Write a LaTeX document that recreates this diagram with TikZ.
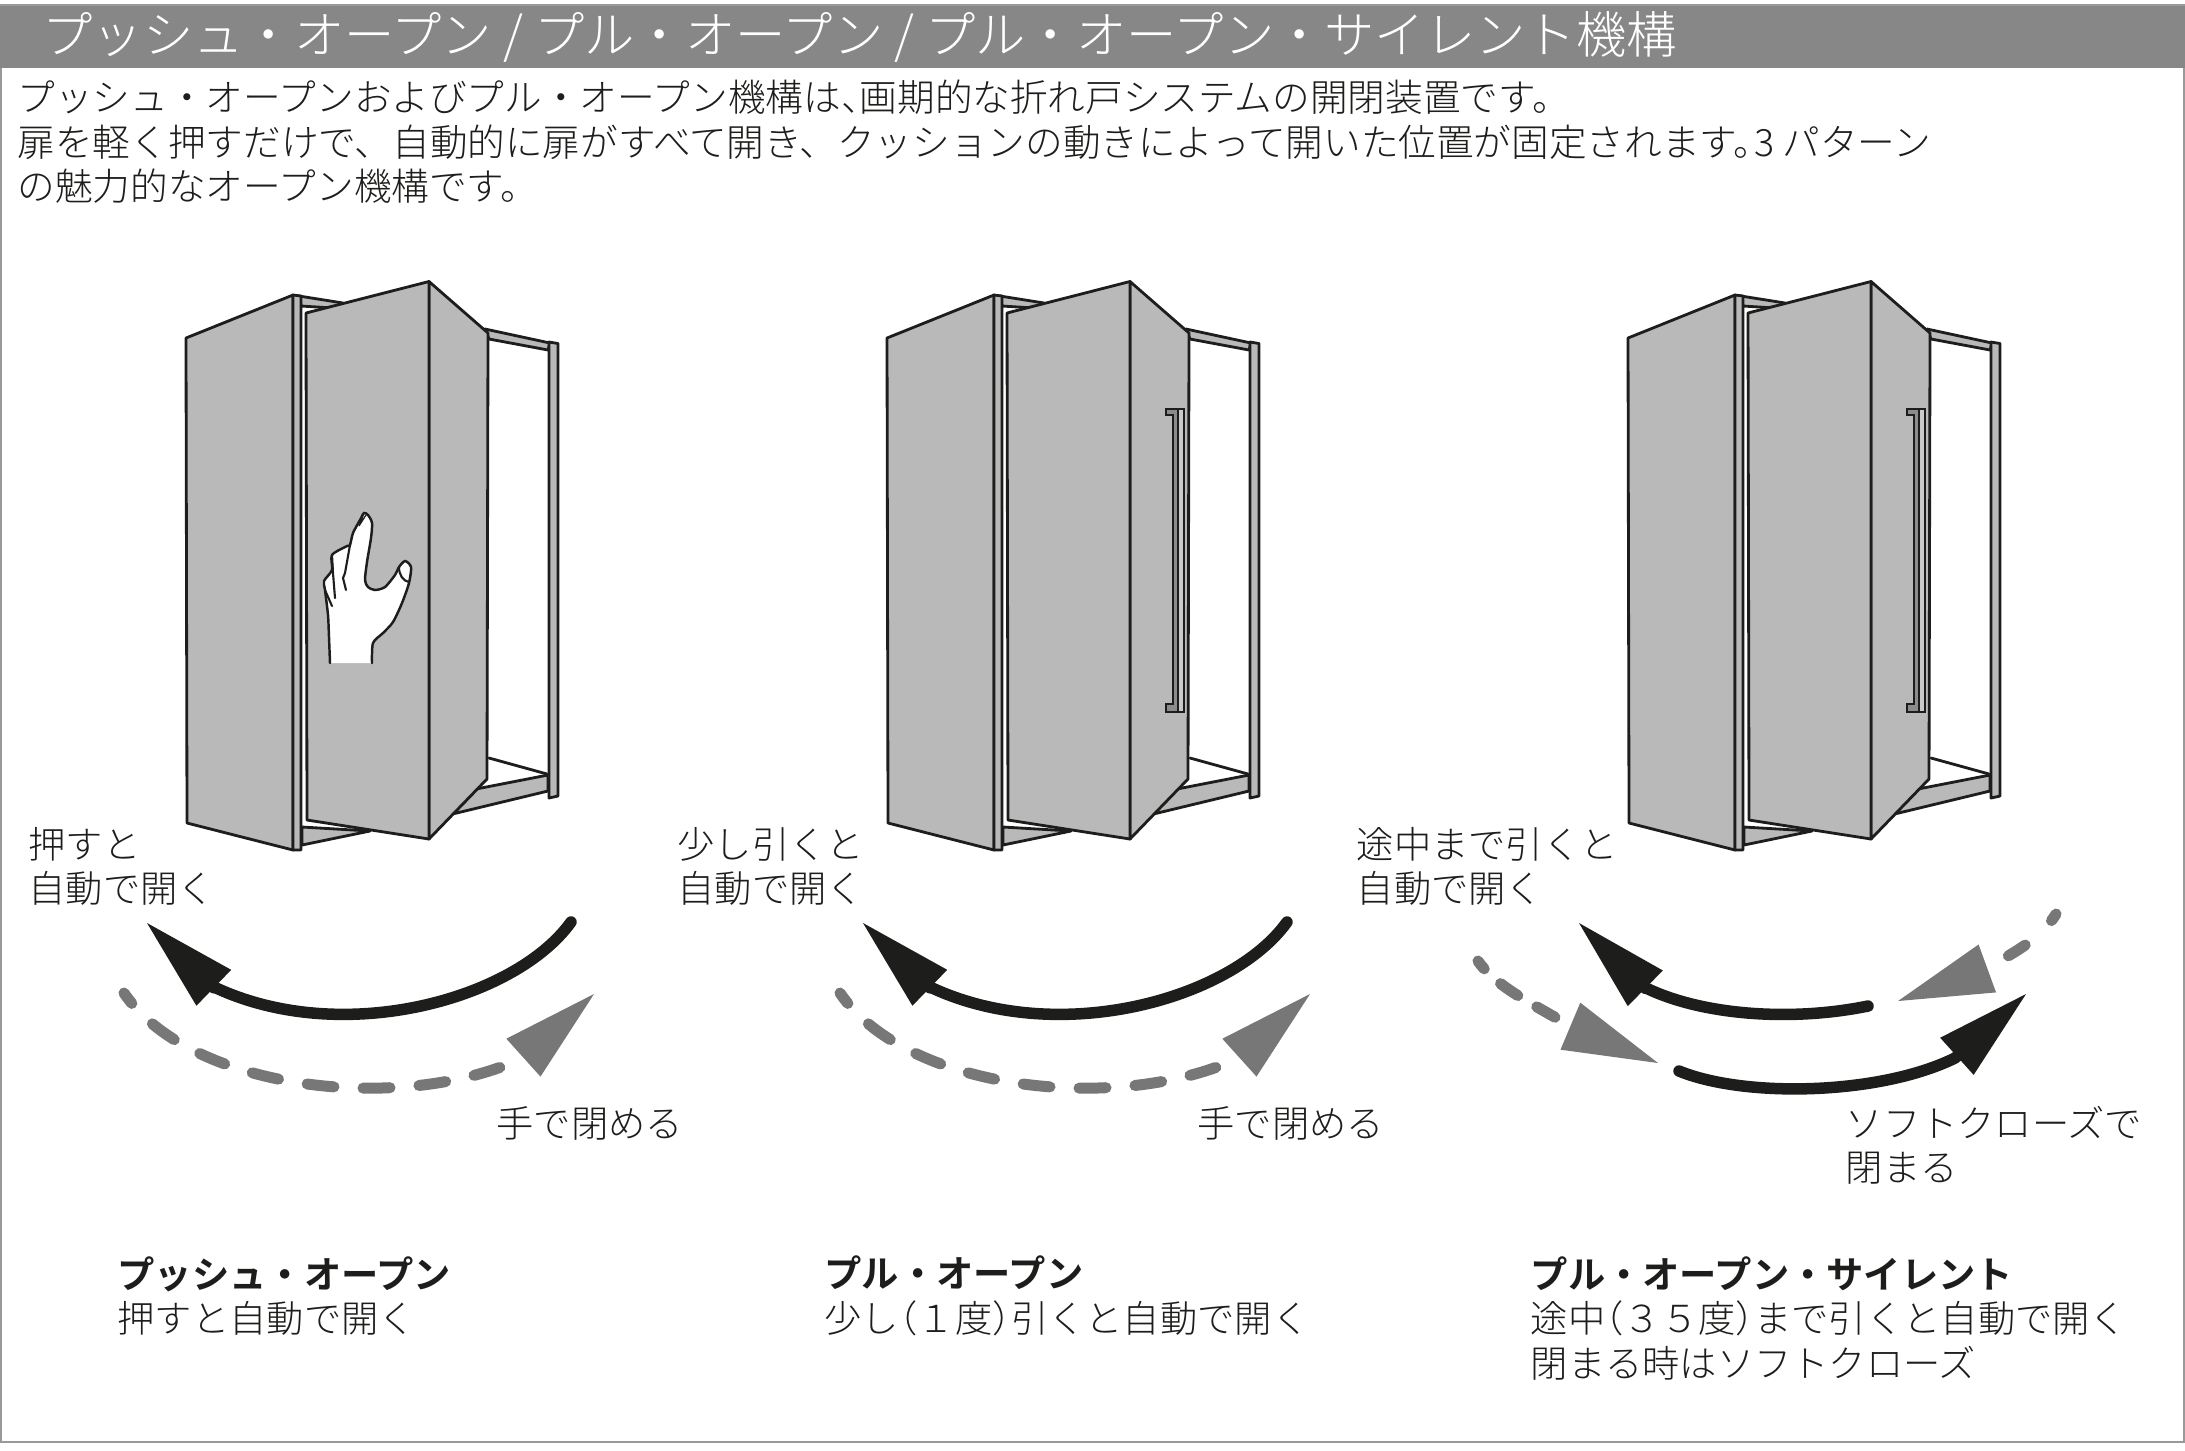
\documentclass[tikz,border=0pt]{standalone}
\usepackage{fontspec}
\setmainfont{Noto Sans CJK JP Light}[BoldFont={Noto Sans CJK JP Bold}]
\usepackage{xcolor}
\definecolor{ink}{HTML}{1D1D1B}
\definecolor{panelgray}{HTML}{B9B9B9}
\definecolor{bandgray}{HTML}{878787}
\definecolor{arcgray}{HTML}{777777}
\definecolor{gripdark}{HTML}{8C8C8C}
\definecolor{griplight}{HTML}{CACACA}
\usepackage{tikz}
\usetikzlibrary{arrows.meta,positioning,calc}
\tikzset{
  panel/.style    = {draw=ink,fill=panelgray,line width=.8pt,line join=round},
  hw/.style       = {draw=ink,line width=.8pt,line cap=round},
  lbl/.style      = {anchor=west,inner sep=0pt,align=left,text=ink,
                     font=\fontsize{10.6pt}{12.65pt}\selectfont},
  introtxt/.style = {lbl,font=\fontsize{10.7pt}{12.65pt}\selectfont},
  headline/.style = {anchor=west,inner sep=0pt,text=white,
                     font=\fontsize{14.3pt}{16pt}\selectfont},
  openarc/.style  = {draw=ink,line width=.115cm,line cap=round,
                     -{Triangle[length=9.3mm,width=5mm,line width=0pt]}},
  closearc/.style = {draw=arcgray,line width=.11cm,line cap=round,
                     dash pattern=on .27cm off .29cm,dash phase=.14cm,
                     -{Triangle[length=9.5mm,width=5.1mm,line width=0pt]}},
}
\newcommand{\foldcabinet}[2]{%
  \begin{scope}[shift={(#2,0)}]
    \draw[panel] (485,329) -- (550,343) -- (548,350) -- (489,339) -- cycle;
    \draw[panel] (440,796) -- (548,775) -- (548,791) -- (440,817) -- cycle;
    \draw[hw] (489,758) -- (547,774);
    \draw[panel] (549,342) -- (558,343.5) -- (558,796) -- (549,798) -- cycle;
    \draw[panel] (299,296) -- (343,303) -- (333,308) -- (301,306) -- cycle;
    \draw[panel] (302,827) -- (370,831) -- (302,845) -- cycle;
    \draw[panel] (186,338) -- (293,295) -- (293,850) -- (187,823) -- cycle;
    \draw[panel] (293,295) -- (301,296) -- (301,850) -- (293,850) -- cycle;
    \draw[panel] (429,281.5) -- (488,333) -- (487,779) -- (429,839) -- cycle;
    \draw[panel] (306,313) -- (429,281.5) -- (429,839) -- (307,820) -- cycle;
    \coordinate (#1-grip) at (465,409);
  \end{scope}%
}
\newcommand{\doorgrip}[1]{%
  \begin{scope}[shift={(#1-grip)}]
    \fill[griplight] (7,0) rectangle (18,303);
    \fill[gripdark] (7,6) rectangle (12,303);
    \fill[gripdark] (0,0) rectangle (12,6);
    \fill[gripdark] (0,295) rectangle (12,303);
    \draw[hw,line width=.5pt] (12,0) -- (12,303);
    \draw[hw,line width=.6pt] (0,0) -- (18,0) -- (18,303) -- (0,303) -- (0,295)
          -- (7,295) -- (7,6) -- (0,6) -- cycle;
  \end{scope}%
}
\newcommand{\swingarcs}[2]{%
  \begin{scope}[shift={(#2,0)}]
    \coordinate (#1-opena) at (571,922);
    \coordinate (#1-openb) at (212,986);
    \coordinate (#1-opent) at (147,923);
    \coordinate (#1-closea) at (124,993);
    \coordinate (#1-closeb) at (523,1058);
    \coordinate (#1-closet) at (594,994);
    \draw[openarc] (#1-opena) .. controls (515,1000) and (340,1048) .. (#1-openb)
          -- (#1-opent);
    \draw[closearc] (#1-closea) .. controls (190,1090) and (400,1115) .. (#1-closeb)
          -- (#1-closet);
  \end{scope}%
}
\begin{document}
\begin{tikzpicture}[x=.01cm,y=-.01cm]
  \useasboundingbox (0,0) rectangle (2185,1450);
  \draw[gray!80,line width=.7pt] (1,5) rectangle (2184,1442);
  \fill[bandgray] (0,6) rectangle (2185,68);
  \node[headline] (title) at (42,37)
        {プッシュ・オープン / プル・オープン / プル・オープン・サイレント機構};
  \node[introtxt] (intro) at (17,142)
        {プッシュ・オープンおよびプル・オープン機構は、\kern-.5em 画期的な折れ戸システムの開閉装置です。\\
         扉を軽く押すだけで、自動的に扉がすべて開き、クッションの動きによって開いた位置が固定されます。\kern-.45em 3 パターン\\
         の魅力的なオープン機構です。};

  \foldcabinet{push}{0}
  \foldcabinet{pull}{701}
  \foldcabinet{silent}{1442}
  \doorgrip{pull}
  \doorgrip{silent}

  \draw[hw,fill=white,line width=.7pt] plot[smooth,tension=.45] coordinates {
        (330,663) (329,637) (328,615) (325,590) (324,581) (332,570) (332,555)
        (347,546) (350,545) (353,533) (360,520) (364,513) (368,515) (372,523)
        (371,538) (367,562) (365,580) (368,587) (375,590) (385,587) (395,575)
        (399,567) (405,561) (411,567) (409,583) (402,603) (393,622) (383,633)
        (373,643) (372,663)};
  \draw[hw,line width=.6pt] (350,545) -- (345,573) -- (343,578) -- (346,590);
  \draw[hw,line width=.6pt] (332,555) -- (333,573) -- (335,598);
  \draw[hw,line width=.6pt] (325,590) -- (332,606);
  \draw[hw,line width=.35pt] (364,513) -- (359,526) -- (366,515);
  \draw[hw,line width=.6pt] (399,567) .. controls (399,575) and (403,581) .. (409,582);

  \swingarcs{pusharc}{0}
  \swingarcs{pullarc}{716}

  \coordinate (sa) at (1868,1006);
  \coordinate (sb) at (1644,987);
  \coordinate (st) at (1579,923);
  \draw[openarc] (sa) .. controls (1790,1022) and (1700,1015) .. (sb) -- (st);
  \coordinate (ca) at (2056,914);
  \coordinate (cb) at (1983,970);
  \coordinate (ct) at (1898,1001);
  \draw[closearc,dash pattern=on .2cm off .36cm,dash phase=.12cm]
        (ca) .. controls (2040,940) and (2010,955) .. (cb) -- (ct);
  \coordinate (da) at (1478,961);
  \coordinate (db) at (1570,1026);
  \coordinate (dt) at (1658,1063);
  \draw[closearc,dash pattern=on .21cm off .22cm,dash phase=.11cm]
        (da) .. controls (1496,987) and (1535,1005) .. (db) -- (dt);
  \coordinate (ea) at (1679,1071);
  \coordinate (eb) at (1955,1058);
  \coordinate (et) at (2026,994);
  \draw[openarc] (ea) .. controls (1745,1098) and (1880,1095) .. (eb) -- (et);

  \node[lbl] (pushopen) at (28,866.5) {押すと\\自動で開く};
  \node[lbl] (pullopen) at (677,866.5) {少し引くと\\自動で開く};
  \node[lbl] (silentopen) at (1356,866.5) {途中まで引くと\\自動で開く};
  \node[lbl] (pushclose) at (496,1123) {手で閉める};
  \node[lbl] (pullclose) at (1197,1123) {手で閉める};
  \node[lbl] (silentclose) at (1845,1145.5) {ソフトクローズで\\閉まる};

  \node[lbl] (pushcap) at (117,1296) {\textbf{プッシュ・オープン}\\押すと自動で開く};
  \node[lbl] (pullcap) at (824,1296)
        {\textbf{プル・オープン}\\少し\kern-.5em（１度）\kern-.5em引くと自動で開く};
  \node[lbl] (silentcap) at (1530,1318)
        {\textbf{プル・オープン・サイレント}\\途中\kern-.5em（３５度）\kern-.5emまで引くと自動で開く\\閉まる時はソフトクローズ};
\end{tikzpicture}
\end{document}
